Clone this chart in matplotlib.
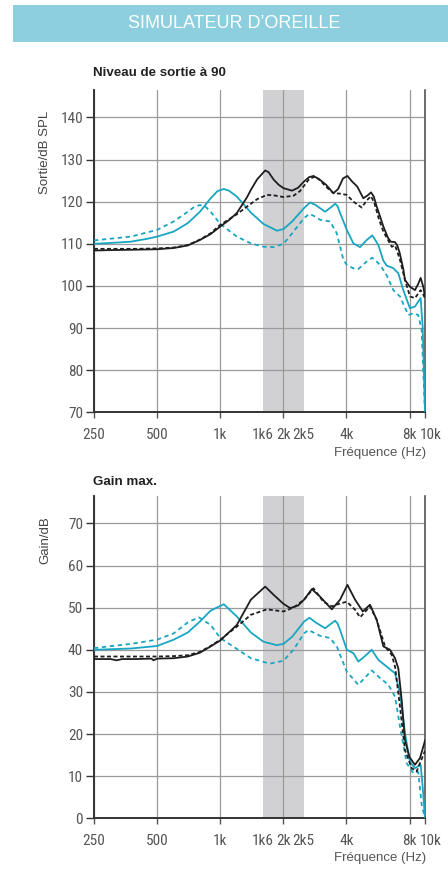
import matplotlib
matplotlib.use("Agg")
import matplotlib.pyplot as plt
from matplotlib.patches import Rectangle
from matplotlib import font_manager
from matplotlib.transforms import ScaledTranslation

# ---------------- data ----------------
banner_text = "SIMULATEUR D\u2019OREILLE"
title_top = "Niveau de sortie à 90"
title_bot = "Gain max."
ylabel_top = "Sortie/dB SPL"
ylabel_bot = "Gain/dB"
xlabel = "Fréquence (Hz)"

x_major = [250, 500, 1000, 2000, 4000, 8000, 9474]
x_major_labels = ["250", "500", "1k", "2k", "4k", "8k", "10k"]
x_minor = [1600, 2500]
x_minor_labels = ["1k6", "2k5"]
band = [1600, 2500]

yticks_top = [70, 80, 90, 100, 110, 120, 130, 140]
yticks_bot = [0, 10, 20, 30, 40, 50, 60, 70]

# Output level (top) -------------------------------------------
top_black_solid_f = [250, 300, 400, 500, 600, 700, 800, 900, 1000, 1100, 1200, 1340, 1400, 1500, 1638, 1700,
                     1800, 1900, 2003, 2200, 2350, 2512, 2650, 2782, 2950, 3198, 3466, 3650, 3850, 4042,
                     4250, 4500, 4813, 5050, 5237, 5400, 5575, 5783, 5996, 6300, 6502, 6817, 7000, 7177,
                     7464, 7604, 8033, 8485, 8800, 9032, 9296, 9474]
top_black_solid_v = [108.4, 108.5, 108.6, 108.7, 109.0, 109.6, 110.9, 112.3, 114.1, 115.6, 117.3, 121.0, 122.8,
                     125.3, 127.4, 127.0, 125.2, 124.0, 123.2, 122.6, 123.3, 124.8, 125.8, 126.1, 125.4,
                     124.0, 122.0, 123.0, 125.5, 126.1, 124.8, 123.6, 120.8, 121.5, 122.2, 121.2, 118.8,
                     116.5, 114.1, 111.5, 110.5, 110.4, 109.5, 107.8, 104.0, 101.4, 99.8, 99.0, 100.5,
                     101.9, 99.8, 97.5]

top_black_dash_f = [250, 400, 500, 600, 700, 800, 900, 1000, 1100, 1200, 1340, 1500, 1669, 1800, 2003, 2235,
                    2400, 2512, 2650, 2834, 3000, 3200, 3466, 3729, 4014, 4315, 4730, 5000, 5237, 5450,
                    5700, 5996, 6575, 6817, 7000, 7199, 7604, 8033, 8485, 9032, 9296, 9474]
top_black_dash_v = [108.8, 108.8, 108.9, 109.1, 109.7, 111.0, 112.5, 114.5, 115.8, 117.0, 118.8, 120.6, 121.6,
                    121.5, 121.1, 121.4, 122.5, 123.8, 125.3, 126.0, 125.0, 123.5, 122.0, 121.9, 121.6,
                    120.0, 118.6, 120.3, 121.3, 119.5, 116.0, 112.9, 109.3, 109.6, 108.0, 106.2, 101.4,
                    97.5, 97.1, 99.0, 98.0, 97.0]

top_cyan_solid_f = [250, 300, 375, 450, 500, 600, 700, 800, 900, 970, 1040, 1100, 1200, 1400, 1608, 1750,
                    1862, 2003, 2203, 2512, 2684, 2850, 3163, 3400, 3530, 3620, 3729, 4014, 4315, 4643,
                    4996, 5311, 5500, 5676, 5996, 6224, 6690, 7067, 7464, 8033, 8485, 9032, 9234, 9474]
top_cyan_solid_v = [110.0, 110.2, 110.5, 111.2, 111.7, 112.9, 114.9, 117.6, 120.8, 122.5, 123.0, 122.6, 121.2,
                    117.4, 114.7, 113.8, 113.1, 113.5, 115.3, 118.5, 119.8, 119.2, 117.6, 118.8, 119.5,
                    119.0, 117.3, 113.3, 110.1, 109.2, 110.9, 112.0, 110.8, 109.7, 106.0, 104.8, 104.2,
                    103.0, 99.0, 94.7, 95.1, 97.1, 90.3, 70.0]

top_cyan_dash_f = [250, 375, 500, 600, 700, 750, 800, 850, 900, 1000, 1200, 1400, 1608, 1801, 2003, 2203,
                   2512, 2663, 2800, 2994, 3342, 3595, 3867, 4014, 4300, 4557, 4996, 5311, 5783, 6224,
                   6690, 7199, 7884, 8330, 8797, 9131, 9474]
top_cyan_dash_v = [110.8, 111.7, 113.3, 115.3, 117.6, 118.7, 119.2, 118.8, 117.6, 114.7, 111.7, 110.1, 109.3,
                   109.2, 110.0, 112.5, 116.1, 117.1, 116.6, 115.7, 115.3, 112.5, 106.2, 105.0, 104.2,
                   104.0, 105.8, 106.7, 105.0, 102.5, 99.0, 97.5, 93.1, 93.5, 93.1, 89.5, 70.0]

# Max gain (bottom) --------------------------------------------
bot_black_solid_f = [250, 300, 320, 340, 400, 470, 480, 500, 600, 700, 800, 900, 1000, 1200, 1400, 1638,
                     1801, 2003, 2155, 2350, 2512, 2734, 2994, 3404, 3729, 4042, 4396, 4783, 5180, 5575,
                     5996, 6453, 6817, 7067, 7334, 7604, 7972, 8485, 8963, 9399, 9474]
bot_black_solid_v = [37.8, 37.8, 37.5, 37.8, 37.8, 37.9, 37.5, 37.9, 38.0, 38.4, 39.3, 40.8, 42.2, 45.9, 51.9,
                     55.0, 53.0, 50.9, 49.9, 50.5, 51.9, 54.4, 52.6, 49.6, 51.9, 55.4, 51.9, 49.1, 50.7,
                     47.1, 40.8, 40.0, 38.0, 35.6, 28.1, 18.6, 14.6, 12.7, 14.3, 17.8, 18.5]

bot_black_dash_f = [250, 400, 500, 600, 700, 800, 900, 1000, 1200, 1400, 1669, 2003, 2235, 2512, 2782, 3104,
                    3404, 3729, 4014, 4396, 4643, 5180, 5575, 6109, 6575, 6817, 7199, 7604, 8186, 8645,
                    8963, 9296, 9474]
bot_black_dash_v = [38.4, 38.4, 38.4, 38.5, 38.7, 39.5, 40.9, 42.4, 45.5, 48.3, 49.6, 49.1, 50.0, 51.9, 54.6,
                    51.4, 50.3, 51.0, 51.4, 49.5, 47.7, 50.3, 47.1, 40.8, 38.8, 36.0, 26.5, 16.2, 11.9,
                    11.1, 13.1, 15.0, 16.0]

bot_cyan_solid_f = [250, 375, 500, 600, 700, 800, 900, 1040, 1200, 1400, 1608, 1862, 2003, 2203, 2512, 2663,
                    2850, 3163, 3400, 3530, 3620, 3729, 4014, 4315, 4557, 4900, 5278, 5676, 6224, 6817,
                    7199, 7604, 8033, 8485, 9032, 9234, 9474]
bot_cyan_solid_v = [40.0, 40.3, 40.9, 42.4, 44.1, 46.7, 49.3, 50.8, 47.9, 44.1, 41.9, 41.1, 41.4, 43.1, 46.7,
                    47.6, 46.5, 45.1, 46.3, 46.9, 46.3, 44.7, 40.0, 39.2, 37.2, 38.5, 40.0, 37.6, 36.0,
                    34.4, 29.7, 20.2, 13.4, 11.9, 12.7, 7.5, 0.0]

bot_cyan_dash_f = [250, 375, 500, 600, 700, 790, 900, 1000, 1200, 1400, 1720, 2003, 2235, 2350, 2512, 2634,
                   2994, 3342, 3595, 4014, 4557, 5278, 5783, 6333, 6817, 7199, 7747, 8330, 8797, 9131,
                   9474]
bot_cyan_dash_v = [40.4, 41.4, 42.4, 43.9, 46.5, 47.7, 45.9, 42.8, 40.2, 38.0, 36.7, 37.4, 40.0, 41.7, 43.9,
                   44.7, 43.3, 42.8, 40.8, 34.8, 31.7, 35.1, 33.3, 31.7, 28.9, 21.8, 13.1, 10.7, 11.0,
                   3.2, 0.0]

# ---------------- style ----------------
W, H = 448, 869
DPI = 100
BLACK = "#1e1e1e"
CYAN = "#18a6c2"
GRID = "#9a9a9a"
BAND = "#d1d1d3"
BANNER = "#8ecfdf"
TXT = "#555555"

available = {f.name for f in font_manager.fontManager.ttflist}
narrow_family = None
for cand in ["Liberation Sans Narrow", "DejaVu Sans Condensed", "Roboto Condensed", "Open Sans Condensed"]:
    if cand in available:
        narrow_family = cand
        break
if narrow_family is not None:
    TICK_FAMILY = [narrow_family, "DejaVu Sans"]
    TICK_SIZE = 11
else:
    TICK_FAMILY = ["Liberation Sans", "DejaVu Sans"]
    TICK_SIZE = 9.2

plt.rcParams["font.family"] = ["Liberation Sans", "DejaVu Sans"]

fig = plt.figure(figsize=(W / DPI, H / DPI), dpi=DPI)


def px_ax(left, top, right, bottom):
    return fig.add_axes([left / W, 1 - bottom / H, (right - left) / W, (bottom - top) / H])


# banner
fig.patches.append(Rectangle((13 / W, 1 - 42 / H), 1 - 13 / W, 37 / H, transform=fig.transFigure,
                             facecolor=BANNER, edgecolor="none"))
fig.text(234 / W, 1 - 23.5 / H, banner_text, color="white", fontsize=13, ha="center", va="center")


def panel(ax, ylim, yticks, series, title, ylabel, ylabel_y, title_y, xlab_y):
    ax.set_xscale("log")
    ax.set_xlim(250, 9474)
    ax.set_ylim(*ylim)
    ax.axvspan(band[0], band[1], color=BAND, zorder=0, lw=0)
    ax.set_xticks(x_major)
    ax.set_xticklabels(x_major_labels)
    ax.set_xticks(x_minor, minor=True)
    ax.set_xticklabels(x_minor_labels, minor=True)
    ax.set_yticks(yticks)
    ax.set_yticklabels([str(t) for t in yticks])
    ax.grid(True, which="major", color=GRID, lw=0.9, zorder=1)
    ax.set_axisbelow(True)
    ax.tick_params(axis="y", which="major", direction="out", length=5.5, width=1.0, color="#333333",
                   pad=2.5, labelsize=TICK_SIZE, labelcolor=TXT)
    ax.tick_params(axis="x", which="major", direction="out", length=4, width=1.0, color="#555555",
                   pad=7, labelsize=TICK_SIZE, labelcolor=TXT)
    ax.tick_params(axis="x", which="minor", length=0, pad=11, labelsize=TICK_SIZE, labelcolor=TXT)
    for lab in ax.get_xticklabels() + ax.get_xticklabels(minor=True) + ax.get_yticklabels():
        lab.set_family(TICK_FAMILY)
    # shift the "10k" label slightly right, as in the reference
    last = ax.xaxis.get_major_ticks()[-1].label1
    last.set_horizontalalignment("left")
    last.set_transform(last.get_transform() + ScaledTranslation(-5 / DPI, 0, fig.dpi_scale_trans))
    ax.spines["top"].set_visible(False)
    ax.spines["left"].set_color("#333333")
    ax.spines["left"].set_linewidth(1.4)
    ax.spines["bottom"].set_color("#333333")
    ax.spines["bottom"].set_linewidth(1.4)
    ax.spines["right"].set_color("#555555")
    ax.spines["right"].set_linewidth(1.2)
    for f, v, c, ls in series:
        ax.plot(f, v, color=c, lw=1.3, linestyle=ls, zorder=3, solid_joinstyle="round")
    fig.text(93 / W, 1 - title_y / H, title, fontsize=9.6, fontweight="bold", color="#222222",
             ha="left", va="center")
    fig.text(45 / W, 1 - ylabel_y / H, ylabel, fontsize=9.5, color="#444444", rotation=90,
             ha="center", va="center")
    fig.text(426 / W, 1 - xlab_y / H, xlabel, fontsize=9.5, color=TXT, ha="right", va="center")


DASH_K = (0, (2.2, 1.4))
DASH_C = (0, (2.4, 2.0))

ax1 = px_ax(94, 90, 425, 412.3)
panel(ax1, (70, 146.5), yticks_top,
      [(top_cyan_dash_f, top_cyan_dash_v, CYAN, DASH_C),
       (top_cyan_solid_f, top_cyan_solid_v, CYAN, "-"),
       (top_black_dash_f, top_black_dash_v, BLACK, DASH_K),
       (top_black_solid_f, top_black_solid_v, BLACK, "-")],
      title_top, ylabel_top, 152, 73, 453)

ax2 = px_ax(94, 496, 425, 818.3)
panel(ax2, (0, 76.5), yticks_bot,
      [(bot_cyan_dash_f, bot_cyan_dash_v, CYAN, DASH_C),
       (bot_cyan_solid_f, bot_cyan_solid_v, CYAN, "-"),
       (bot_black_dash_f, bot_black_dash_v, BLACK, DASH_K),
       (bot_black_solid_f, bot_black_solid_v, BLACK, "-")],
      title_bot, ylabel_bot, 540, 482, 858)

fig.savefig("out.png", dpi=DPI)
